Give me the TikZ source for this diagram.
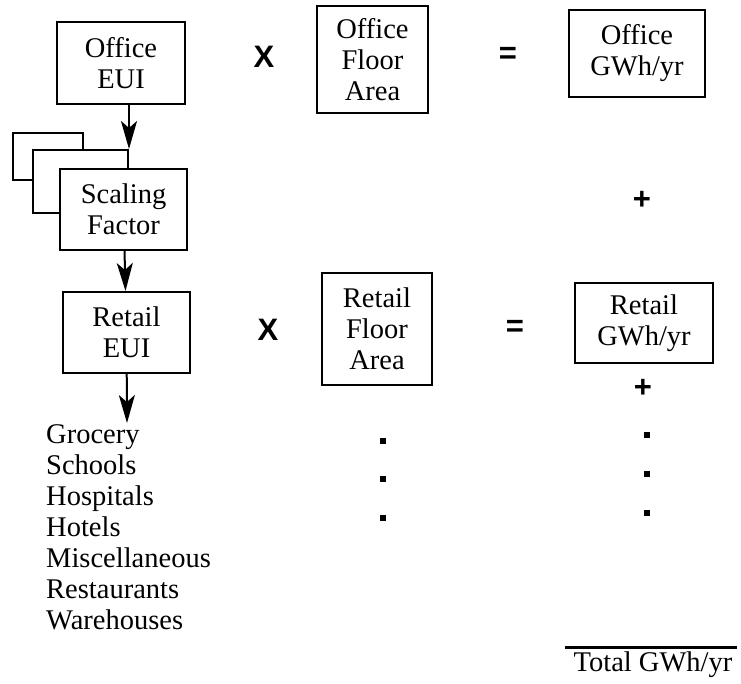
\documentclass[tikz,border=0pt]{standalone}
\usepackage{fontspec}
\setmainfont{Liberation Serif}
\setsansfont{Liberation Sans}
\usetikzlibrary{arrows.meta,positioning}

\begin{document}
\begin{tikzpicture}[x=1pt, y=-1pt,
    >={Stealth[length=28pt, width=16pt, inset=7pt]},
    every node/.style={font=\fontsize{28.5}{31}\selectfont, inner sep=0pt},
    box/.style={draw, line width=2pt, align=center, fill=white},
    euibox/.style={box, minimum width=128pt, minimum height=82pt},
    areabox/.style={box, minimum width=111pt, minimum height=107pt},
    gwhbox/.style={box, minimum width=137pt, minimum height=84pt},
    card/.style={draw, line width=2pt, fill=white},
    op/.style={font=\fontsize{31}{34}\selectfont\sffamily\bfseries},
    dotmark/.style={fill, minimum size=6pt}]
    \useasboundingbox (0,0) rectangle (741,683);

    % left column
    \node[euibox](OEUI) at (121,63) {Office\\EUI};
    \node[card, minimum width=70pt, minimum height=47pt](Back) at (48,156.5) {};
    \node[card, minimum width=95pt, minimum height=63pt](Mid) at (80.5,181.5) {};
    \node[euibox, minimum width=127pt, minimum height=81pt](Scale) at (123.5,209.5) {Scaling\\Factor};
    \node[euibox, minimum width=127pt, minimum height=81pt](REUI) at (126.5,332.5) {Retail\\EUI};
    \coordinate (ListTop) at (127,423);
    \node[anchor=north west, align=left](List) at (46,424)
        {Grocery\\Schools\\Hospitals\\Hotels\\Miscellaneous\\Restaurants\\Warehouses};

    \path[->, line width=2pt] (Mid.north east |- OEUI.south) edge (Mid.north east);
    \path[->, line width=2pt] (Scale) edge (REUI);
    \path[->, line width=2pt] (REUI) edge (ListTop);

    % floor areas
    \node[op](X1) at (264,57) {X};
    \node[op](X2) at (268,330) {X};
    \node[areabox](OArea) at (372.5,59.5) {Office\\Floor\\Area};
    \node[areabox, minimum width=110pt, minimum height=112pt](RArea) at (377,329) {Retail\\Floor\\Area};
    \foreach \i/\y in {1/441, 2/479, 3/518}
        \node[dotmark](LD\i) at (383,\y) {};

    % results
    \node[op](Eq1) at (508,55) {=};
    \node[op](Eq2) at (515,328) {=};
    \node[gwhbox, minimum width=136pt, minimum height=87pt](OGWh) at (637,53.5) {Office\\GWh/yr};
    \node[gwhbox, minimum width=138pt, minimum height=80pt](RGWh) at (644,323) {Retail\\GWh/yr};
    \node[op](Plus1) at (642,200) {+};
    \node[op](Plus2) at (643,388) {+};
    \foreach \i/\y in {1/435, 2/474, 3/513}
        \node[dotmark](RD\i) at (647,\y) {};

    \node(Total) at (653,665) {Total GWh/yr};
    \draw[line width=3pt] ([xshift=-8pt, yshift=4pt]Total.north west) -- ([xshift=4pt, yshift=4pt]Total.north east);
\end{tikzpicture}
\end{document}
